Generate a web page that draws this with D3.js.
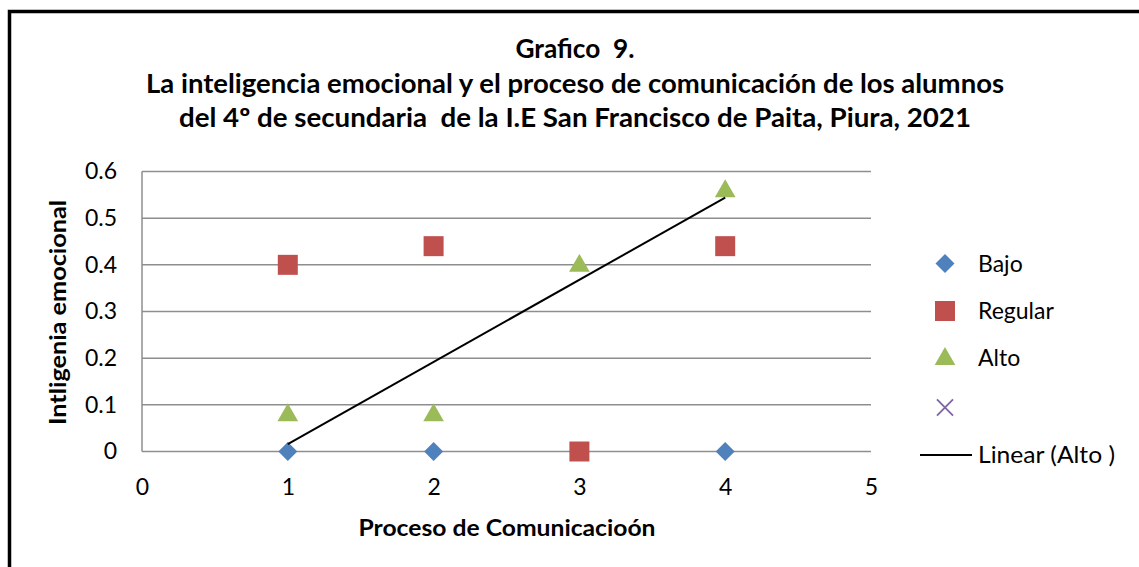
<!DOCTYPE html>
<html>
<head>
<meta charset="utf-8">
<script src="https://cdn.jsdelivr.net/npm/d3@7"></script>
<style>
  html, body { margin: 0; padding: 0; background: #fff; }
  svg { display: block; }
  text { font-family: Lato, "Open Sans", sans-serif; fill: #000; white-space: pre; }
</style>
</head>
<body>
<svg id="chart" width="1139" height="567"></svg>
<script>
// ---- data ----
const titleLines = [
  "Grafico  9.",
  "La inteligencia emocional y el proceso de comunicación de los alumnos",
  "del 4º de secundaria  de la I.E San Francisco de Paita, Piura, 2021"
];
const xLabel = "Proceso de Comunicacioón";
const yLabel = "Intligenia emocional";
const xTicks = [0, 1, 2, 3, 4, 5];
const yTicks = [0, 0.1, 0.2, 0.3, 0.4, 0.5, 0.6];
const xValues = [1, 2, 3, 4];
const bajo = [0, 0, 0, 0];
const regular = [0.4, 0.44, 0, 0.44];
const alto = [0.08, 0.08, 0.4, 0.56];
const seriesNames = ["Bajo", "Regular", "Alto", ""];
const trendName = "Linear (Alto )";

// ---- layout ----
const svg = d3.select("#chart");
const W = 1139, H = 567;
const plot = { left: 142, right: 871, top: 171.5, bottom: 451.5 };
const x = d3.scaleLinear().domain([0, 5]).range([plot.left, plot.right]);
const y = d3.scaleLinear().domain([0, 0.6]).range([plot.bottom, plot.top]);

const colors = { Bajo: "#4F81BD", Regular: "#C0504D", Alto: "#9BBB59", X: "#8064A2" };

// frame
svg.append("rect").attr("x", 9.5).attr("y", 11.5).attr("width", W + 20).attr("height", H + 20)
  .attr("fill", "none").attr("stroke", "#000").attr("stroke-width", 3.5);

// title
const titleBase = [58, 93, 127];
const titleWidths = [119, 858, 792];
titleLines.forEach((t, i) => {
  svg.append("text").attr("x", 575).attr("y", titleBase[i])
    .attr("text-anchor", "middle").attr("font-weight", "bold").attr("font-size", 26)
    .attr("textLength", titleWidths[i]).attr("lengthAdjust", "spacingAndGlyphs")
    .text(t);
});

// gridlines
svg.append("g").selectAll("line").data(yTicks).join("line")
  .attr("x1", plot.left).attr("x2", plot.right)
  .attr("y1", d => y(d)).attr("y2", d => y(d))
  .attr("stroke", "#8e8e8e").attr("stroke-width", 1.5);
// y axis line
svg.append("line").attr("x1", plot.left).attr("x2", plot.left)
  .attr("y1", plot.top).attr("y2", plot.bottom)
  .attr("stroke", "#8e8e8e").attr("stroke-width", 1.5);

// y axis tick labels
const yAxis = d3.axisLeft(y).tickValues(yTicks).tickSize(0).tickPadding(25)
  .tickFormat(d => d === 0 ? "0" : d3.format(".1f")(d));
const gy = svg.append("g").attr("transform", `translate(${plot.left},0)`).call(yAxis);
gy.select(".domain").remove();
gy.selectAll("text").attr("font-size", 23).attr("font-family", "Lato, sans-serif").attr("fill", "#000");

// x axis tick labels
const xAxis = d3.axisBottom(x).tickValues(xTicks).tickSize(0).tickPadding(27).tickFormat(d3.format("d"));
const gx = svg.append("g").attr("transform", `translate(0,${plot.bottom})`).call(xAxis);
gx.select(".domain").remove();
gx.selectAll("text").attr("font-size", 23).attr("font-family", "Lato, sans-serif").attr("fill", "#000");

// axis titles
svg.append("text").attr("x", 507).attr("y", 536).attr("text-anchor", "middle")
  .attr("font-weight", "bold").attr("font-size", 23)
  .attr("textLength", 297).attr("lengthAdjust", "spacingAndGlyphs").text(xLabel);
svg.append("text").attr("transform", "translate(66,312.5) rotate(-90)").attr("text-anchor", "middle")
  .attr("font-weight", "bold").attr("font-size", 23)
  .attr("textLength", 225).attr("lengthAdjust", "spacingAndGlyphs").text(yLabel);

// symbols
const diamond = d3.symbol().type(d3.symbolDiamond2).size(230);
const square = d3.symbol().type(d3.symbolSquare).size(400);
const triangle = d3.symbol().type(d3.symbolTriangle).size(185);
const cross = d3.symbol().type(d3.symbolTimes).size(170);

// series
const ptsB = xValues.map((v, i) => [v, bajo[i]]);
const ptsR = xValues.map((v, i) => [v, regular[i]]);
const ptsA = xValues.map((v, i) => [v, alto[i]]);

svg.append("g").selectAll("path").data(ptsB).join("path")
  .attr("transform", d => `translate(${x(d[0])},${y(d[1])})`)
  .attr("d", diamond).attr("fill", colors.Bajo);
svg.append("g").selectAll("path").data(ptsR).join("path")
  .attr("transform", d => `translate(${x(d[0])},${y(d[1])})`)
  .attr("d", square).attr("fill", colors.Regular);
svg.append("g").selectAll("path").data(ptsA).join("path")
  .attr("transform", d => `translate(${x(d[0])},${y(d[1]) + 1})`)
  .attr("d", triangle).attr("fill", colors.Alto);

// linear trend of Alto (least squares)
const mx = d3.mean(xValues), my = d3.mean(alto);
const sxy = d3.sum(xValues.map((v, i) => (v - mx) * (alto[i] - my)));
const sxx = d3.sum(xValues.map(v => (v - mx) ** 2));
const slope = sxy / sxx, intercept = my - slope * mx;
const xmin = d3.min(xValues), xmax = d3.max(xValues);
svg.append("line")
  .attr("x1", x(xmin)).attr("y1", y(intercept + slope * xmin))
  .attr("x2", x(xmax)).attr("y2", y(intercept + slope * xmax))
  .attr("stroke", "#000").attr("stroke-width", 2);

// legend
const legY = [263.5, 311, 358, 407.5, 455];
const legX = 945, legTextX = 978;
const lg = svg.append("g");
lg.append("path").attr("transform", `translate(${legX},${legY[0]})`).attr("d", diamond).attr("fill", colors.Bajo);
lg.append("path").attr("transform", `translate(${legX},${legY[1]})`).attr("d", square).attr("fill", colors.Regular);
lg.append("path").attr("transform", `translate(${legX},${legY[2] + 1})`).attr("d", triangle).attr("fill", colors.Alto);
lg.append("path").attr("transform", `translate(${legX},${legY[3]})`).attr("d", cross)
  .attr("fill", "none").attr("stroke", colors.X).attr("stroke-width", 1.8);
lg.append("line").attr("x1", 920).attr("x2", 972).attr("y1", legY[4]).attr("y2", legY[4])
  .attr("stroke", "#000").attr("stroke-width", 2);
seriesNames.forEach((n, i) => {
  lg.append("text").attr("x", legTextX).attr("y", legY[i]).attr("dy", "0.35em")
    .attr("font-size", 23).text(n);
});
lg.append("text").attr("x", legTextX).attr("y", legY[4]).attr("dy", "0.35em")
  .attr("font-size", 23).attr("textLength", 137).attr("lengthAdjust", "spacingAndGlyphs").text(trendName);
</script>
</body>
</html>
